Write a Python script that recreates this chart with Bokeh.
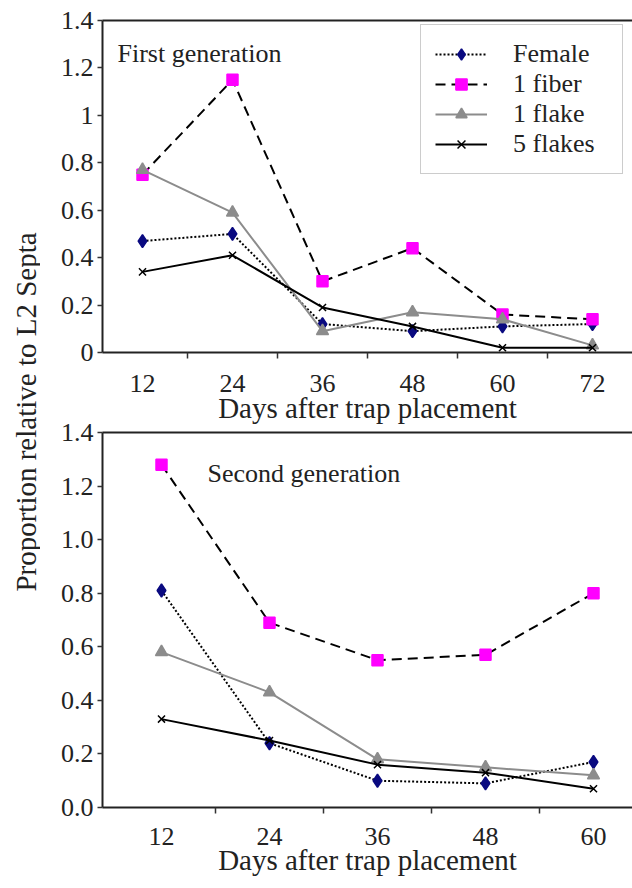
import math
from bokeh.plotting import figure
from bokeh.models import (FixedTicker, LinearAxis, Legend, LegendItem, Label,
                          Range1d, ColumnDataSource)
from bokeh.layouts import row, column
from bokeh.embed import file_html
from bokeh.resources import INLINE

# ---------------- data ----------------
days_gen1 = ["12", "24", "36", "48", "60", "72"]
female_gen1 = [0.47, 0.50, 0.12, 0.09, 0.11, 0.12]
fiber_gen1 = [0.75, 1.15, 0.30, 0.44, 0.16, 0.14]
flake_gen1 = [0.77, 0.59, 0.09, 0.17, 0.14, 0.03]
flakes5_gen1 = [0.34, 0.41, 0.19, 0.11, 0.02, 0.02]

days_gen2 = ["12", "24", "36", "48", "60"]
female_gen2 = [0.81, 0.24, 0.10, 0.09, 0.17]
fiber_gen2 = [1.28, 0.69, 0.55, 0.57, 0.80]
flake_gen2 = [0.58, 0.43, 0.18, 0.15, 0.12]
flakes5_gen2 = [0.33, 0.25, 0.16, 0.13, 0.07]

series_names = ["Female", "1 fiber", "1 flake", "5 flakes"]
y_ticks = [0, 0.2, 0.4, 0.6, 0.8, 1.0, 1.2, 1.4]
y_labels_gen1 = ["0", "0.2", "0.4", "0.6", "0.8", "1", "1.2", "1.4"]
y_labels_gen2 = ["0.0", "0.2", "0.4", "0.6", "0.8", "1.0", "1.2", "1.4"]
x_title = "Days after trap placement"
y_title = "Proportion relative to L2 Septa"

FONT = "Liberation Serif"
TXT = "#222222"

STYLES = [
    dict(line_color="black", line_dash="2 2", line_width=2,
         marker="diamond", size=13, fill_color="#0a0a80", mline="#0a0a80"),
    dict(line_color="black", line_dash="10 6", line_width=2,
         marker="square", size=11, fill_color="#ff00ff", mline="#ff00ff"),
    dict(line_color="#8c8c8c", line_dash="solid", line_width=2,
         marker="triangle", size=12, fill_color="#8c8c8c", mline="#8c8c8c"),
    dict(line_color="black", line_dash="solid", line_width=2,
         marker="x", size=10, fill_color="black", mline="black"),
]

LEFT = 62  # common left border (frames are aligned in the column)


def make_fig(days, values, ylabels, frame_w, frame_h, b_top, first_px, cat_px,
             tick_standoff, label_standoff, note, note_xy, with_legend):
    n = len(days)
    xs = list(range(1, n + 1))
    x0 = 1 - first_px / cat_px
    p = figure(frame_width=frame_w, frame_height=frame_h,
               min_border_left=LEFT, min_border_top=b_top,
               min_border_bottom=0, min_border_right=0,
               x_range=Range1d(x0, x0 + frame_w / cat_px),
               y_range=Range1d(0, 1.4),
               output_backend="svg", toolbar_location=None, tools="")
    p.outline_line_color = None
    p.grid.visible = False
    p.background_fill_color = "white"

    xa = p.xaxis[0]
    xa.ticker = FixedTicker(ticks=xs, minor_ticks=[i + 0.5 for i in range(1, n + 1)])
    xa.major_label_overrides = {x: d for x, d in zip(xs, days)}
    xa.major_tick_out = 0
    xa.major_tick_in = 0
    xa.minor_tick_out = 6
    xa.minor_tick_in = 0
    xa.minor_tick_line_color = "#333333"
    xa.minor_tick_line_width = 1.5
    xa.major_label_standoff = tick_standoff
    xa.axis_label = x_title
    xa.axis_label_standoff = label_standoff

    ya = p.yaxis[0]
    ya.ticker = FixedTicker(ticks=y_ticks)
    ya.major_label_overrides = {t: l for t, l in zip(y_ticks, ylabels)}
    ya.major_tick_out = 5
    ya.major_tick_in = 0
    ya.minor_tick_line_color = None
    ya.major_label_standoff = 4

    for ax in (xa, ya):
        ax.axis_line_width = 2
        ax.axis_line_color = "#222222"
        ax.major_tick_line_width = 1.5
        ax.major_tick_line_color = "#333333" if ax is ya else None
        ax.major_label_text_font = FONT
        ax.major_label_text_font_size = "26px"
        ax.major_label_text_color = TXT
        ax.axis_label_text_font = FONT
        ax.axis_label_text_font_size = "29px"
        ax.axis_label_text_font_style = "normal"
        ax.axis_label_text_color = TXT

    top = LinearAxis(ticker=FixedTicker(ticks=[]), axis_line_width=2,
                     axis_line_color="#222222", major_tick_line_color=None,
                     minor_tick_line_color=None)
    p.add_layout(top, "above")

    items = []
    for name, vals, st in zip(series_names, values, STYLES):
        src = ColumnDataSource(dict(x=xs, y=vals))
        lr = p.line("x", "y", source=src, line_color=st["line_color"],
                    line_dash=st["line_dash"], line_width=st["line_width"])
        sr = p.scatter("x", "y", source=src, marker=st["marker"], size=st["size"],
                       fill_color=st["fill_color"], line_color=st["mline"],
                       line_width=1.5)
        items.append(LegendItem(label=name, renderers=[lr, sr]))

    p.add_layout(Label(x=note_xy[0], y=note_xy[1], text=note, text_font=FONT,
                       text_font_size="26px", text_color=TXT,
                       text_align="left", text_baseline="middle"))

    if with_legend:
        lg = Legend(items=items, location=(318, 178), orientation="vertical",
                    padding=14, spacing=0, margin=0,
                    glyph_width=52, glyph_height=28, label_height=28,
                    label_standoff=26, label_width=95,
                    label_text_font=FONT, label_text_font_size="26px",
                    label_text_line_height=1.0,
                    label_text_color=TXT, border_line_color="#999999",
                    border_line_width=1.5, background_fill_color="white",
                    background_fill_alpha=1.0)
        p.add_layout(lg)
    return p


p1 = make_fig(days_gen1, [female_gen1, fiber_gen1, flake_gen1, flakes5_gen1],
              y_labels_gen1, frame_w=530, frame_h=332, b_top=20,
              first_px=40, cat_px=90, tick_standoff=16, label_standoff=-3,
              note="First generation", note_xy=(0.722, 1.26), with_legend=True)

p2 = make_fig(days_gen2, [female_gen2, fiber_gen2, flake_gen2, flakes5_gen2],
              y_labels_gen2, frame_w=530, frame_h=375, b_top=15,
              first_px=59, cat_px=108, tick_standoff=14, label_standoff=-4,
              note="Second generation", note_xy=(1.426, 1.246), with_legend=False)
p2.border_fill_alpha = 0
p2.margin = (-9, 0, 0, 0)

lab = figure(frame_width=40, frame_height=880, min_border=0,
             x_range=Range1d(0, 40), y_range=Range1d(0, 880),
             x_axis_location=None, y_axis_location=None,
             output_backend="svg", toolbar_location=None, tools="")
lab.outline_line_color = None
lab.grid.visible = False
lab.add_layout(Label(x=25, y=880 - 411.5, text=y_title, angle=math.pi / 2,
                     text_font=FONT, text_font_size="29px", text_color=TXT,
                     text_align="center", text_baseline="middle"))

layout = row(lab, column(p1, p2))

with open("out.html", "w") as f:
    f.write(file_html(layout, INLINE))
